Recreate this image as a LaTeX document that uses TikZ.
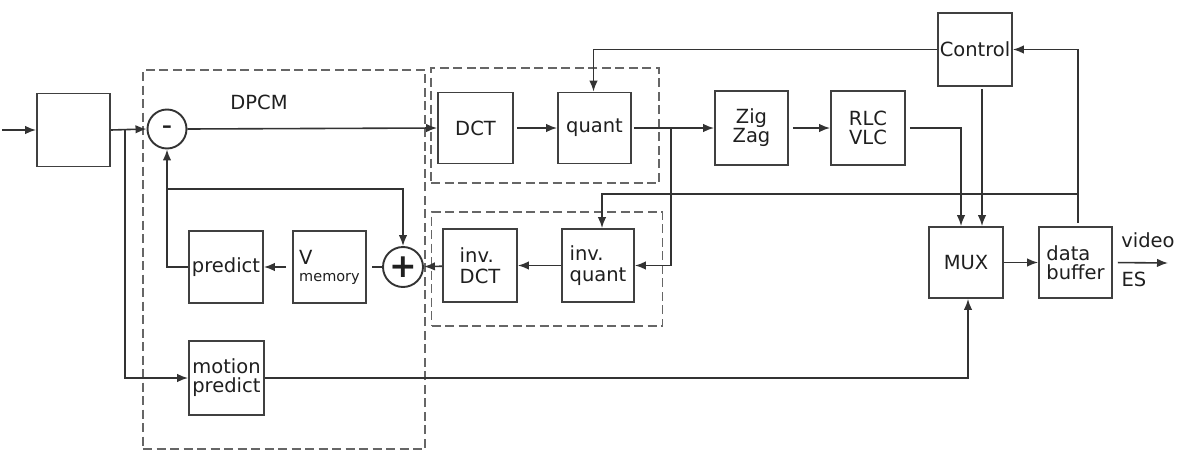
\documentclass[tikz,border=0pt]{standalone}
\usepackage{fontspec}
\setmainfont{DejaVu Sans}
\usetikzlibrary{arrows.meta, positioning}

\begin{document}
\begin{tikzpicture}[
    x=1pt, y=-1pt,
    >=Latex,
    every node/.style={font=\fontsize{19.5}{24}\selectfont, align=center, text=black!88},
    blk/.style={
      rectangle, draw=black!75, line width=1.8pt, fill=white,
      minimum width=73pt, minimum height=72pt, inner sep=0pt
    },
    sumcirc/.style={circle, draw=black!80, line width=1.9pt, fill=white, inner sep=0pt},
    grp/.style={
      rectangle, draw=black!60, line width=1.6pt,
      dash pattern=on 9pt off 4.5pt, minimum width=10pt, minimum height=10pt
    },
    grpLabel/.style={font=\fontsize{19.5}{24}\selectfont},
    arr/.style={-{Latex[length=11pt,width=8.5pt]}, draw=black!80, line width=1.6pt},
    line/.style={draw=black!80, line width=1.6pt}
  ]
    \useasboundingbox (0,0) rectangle (1188,471);

    % dashed groups
    \node[grp, minimum width=282pt, minimum height=379pt] (dpcm) at (284,259.5) {};
    \node[grp, minimum width=228pt, minimum height=115pt] (fwd) at (545,125.5) {};
    \node[grp, minimum width=231pt, minimum height=114pt] (inv) at (547,269) {};
    \node[grpLabel] (dpcmLabel) at (259,102) {DPCM};

    % blocks
    \node[blk, minimum height=73pt] (inbox) at (73.5,130) {};
    \node[sumcirc, minimum size=39pt] (minus) at (167,129) {\bfseries –};
    \node[blk, minimum width=75pt, minimum height=71pt] (dct) at (475.5,128) {DCT};
    \node[blk, minimum height=71pt] (quant) at (594.5,128) {quant};
    \node[blk, minimum height=74pt] (zigzag) at (751.5,128) {Zig\\[-5pt]Zag};
    \node[blk, minimum width=74pt, minimum height=74pt] (rlc) at (868,128) {RLC\\[-5pt]VLC};
    \node[blk, minimum width=74pt, minimum height=73pt] (ctrl) at (975,49.5) {Control};

    \node[blk, minimum width=74pt] (predict) at (226,267) {predict};
    \node[blk, align=left] (vmem) at (329.5,267)
      {V\\[-7pt]{\fontsize{14.5}{17}\selectfont memory}};
    \node[sumcirc, minimum size=40pt] (plus) at (403,267)
      {\fontsize{33}{33}\selectfont\bfseries +};
    \node[blk, minimum width=74pt, minimum height=73pt, align=left] (idct) at (480,265.5)
      {inv.\\[-3pt]DCT};
    \node[blk, minimum width=72pt, minimum height=73pt, align=left] (iquant) at (598,265.5)
      {inv.\\[-3pt]quant};
    \node[blk, minimum width=75pt, minimum height=74pt, align=left] (motion) at (226.5,378)
      {motion\\[-5pt]predict};

    \node[blk, minimum width=74pt, minimum height=71pt] (mux) at (966,262.5) {MUX};
    \node[blk, minimum height=71pt, align=left] (buf) at (1075.5,262.5)
      {data\\[-5pt]buffer};

    \node (videoLabel) at (1148,240) {video};
    \node (esLabel) at (1134,279) {ES};

    % junction points
    \coordinate (src) at (2,130);
    \coordinate (inSplit) at (125,129);
    \coordinate (fbSplit) at (167,189);
    \coordinate (qSplit) at (671,129);
    \coordinate (rateSplit) at (1078,194);
    \coordinate (out) at (1168,263);

    % forward path
    \draw[arr] (src) -- (inbox.west);
    \draw[arr] (inbox.east) -- (minus.west);
    \draw[arr] (inSplit) |- (motion.west);
    \draw[arr] (minus.east) -- (dct.west);
    \draw[arr, shorten <=3pt] (dct) -- (quant);
    \draw[arr, shorten <=2pt] (quant.east) -- (zigzag.west);
    \draw[arr, shorten <=4pt] (zigzag) -- (rlc);
    \draw[arr, shorten <=4pt] (rlc.east) -| ([xshift=-5pt]mux.north);
    \draw[arr, shorten <=2pt] ([xshift=7pt]ctrl.south) -- ([xshift=7pt]ctrl.south |- mux.north);
    \draw[arr] (motion.east) -| ([xshift=2pt]mux.south);
    \draw[arr] (mux) -- (buf);
    \draw[arr, shorten <=5pt] (buf.east) -- (out);

    % rate control
    \draw[arr, shorten <=3pt] (rateSplit |- buf.north) |- (ctrl.east);
    \draw[arr] (rateSplit) -| ([xshift=4pt]iquant.north);
    \draw[arr] (ctrl.west) -| ([xshift=-1pt]quant.north);

    % reconstruction loop
    \draw[arr] (qSplit) |- (iquant.east);
    \draw[arr] (iquant) -- (idct);
    \draw[arr] (idct) -- (plus);
    \draw[line, shorten >=5pt] (plus) -- (vmem);
    \draw[arr, shorten <=6pt] (vmem) -- (predict);
    \draw[arr] (predict.west) -| (minus.south);
    \draw[arr] (fbSplit) -| (plus.north);
  \end{tikzpicture}
\end{document}
